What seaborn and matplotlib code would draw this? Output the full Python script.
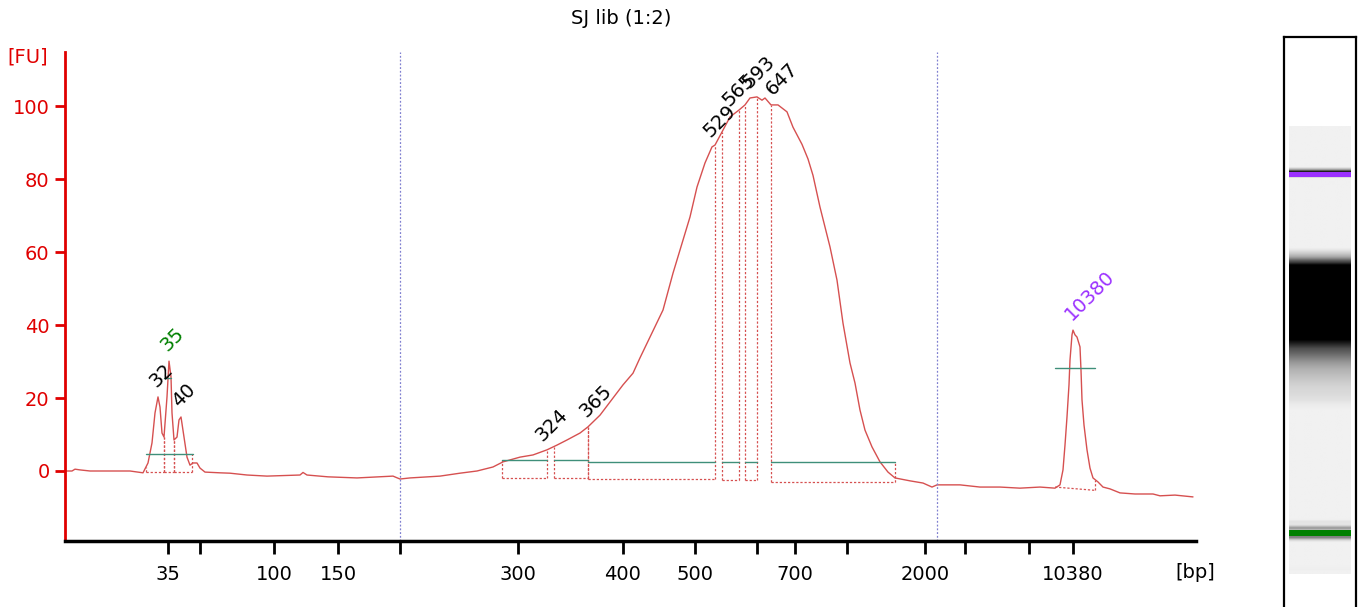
import numpy as np
import matplotlib
matplotlib.use("Agg")
import matplotlib.pyplot as plt
import seaborn as sns

# electropherogram trace, migration time (s) vs fluorescence (FU)
mig_time = [40.2, 40.76, 41.0, 41.4, 42.2, 43.8, 45.4, 46.44, 46.84, 47.16, 47.4, 47.64, 47.8, 47.96,
            48.12, 48.36, 48.52, 48.68, 48.76, 48.92, 49.16, 49.32, 49.48, 49.64, 49.96, 50.2, 50.44,
            50.76, 51.0, 51.4, 52.6, 53.4, 54.76, 56.36, 59.0, 59.24, 59.56, 61.24, 63.56, 66.44, 67.0,
            67.8, 70.2, 71.8, 73.16, 74.44, 75.24, 76.6, 77.64, 78.76, 79.56, 80.36, 81.4, 82.04, 83.0,
            83.8, 84.84, 85.64, 86.2, 87.0, 88.04, 88.84, 89.4, 89.96, 90.2, 90.76, 91.4, 91.96, 92.2,
            92.76, 93.4, 94.12, 94.6, 95.0, 95.56, 95.96, 96.2, 96.68, 97.24, 97.96, 98.44, 99.16,
            99.64, 100.04, 100.6, 101.4, 101.96, 102.44, 103.0, 103.4, 103.8, 104.2, 104.76, 105.4,
            106.04, 106.6, 107.8, 108.84, 109.56, 109.96, 111.8, 113.4, 115.0, 116.6, 118.2, 119.4,
            119.8, 120.04, 120.2, 120.36, 120.52, 120.6, 120.76, 120.84, 121.0, 121.16, 121.4, 121.48,
            121.56, 121.72, 121.96, 122.2, 122.44, 122.84, 123.24, 123.8, 124.6, 125.8, 127.24, 127.8,
            129.0, 130.44]
fu = [0.0, 0.0, 0.5, 0.3, 0.0, 0.0, 0.0, -0.5, 2.2, 7.7, 15.9, 20.3, 17.5, 10.4,
      9.3, 20.3, 30.1, 25.8, 15.9, 8.5, 9.3, 14.0, 14.8, 11.2, 3.8, 1.6, 2.2,
      2.2, 0.8, -0.3, -0.5, -0.6, -1.1, -1.4, -1.1, -0.4, -1.1, -1.6, -1.9, -1.4, -2.2,
      -1.9, -1.4, -0.6, 0.0, 1.1, 2.5, 3.8, 4.4, 5.8, 7.1, 8.5, 10.4, 12.1, 15.3,
      18.9, 23.6, 26.8, 31.0, 36.7, 44.1, 54.2, 60.5, 66.8, 69.6, 77.8, 84.4, 88.8, 89.3,
      92.9, 97.0, 98.9, 100.3, 102.2, 102.5, 101.6, 102.2, 100.3, 100.3, 98.4, 94.2, 89.5,
      85.5, 81.0, 72.3, 61.4, 52.3, 40.5, 29.6, 24.1, 16.7, 11.2, 6.6, 2.5,
      -0.3, -1.9, -2.7, -3.3, -4.4, -3.8, -3.8, -4.4, -4.4, -4.7, -4.4, -4.7,
      -3.8, 0.3, 7.1, 14.8, 23.6, 30.4, 37.3, 38.6, 37.3, 36.7, 34.0, 27.7,
      19.5, 12.6, 5.8, 0.8, -1.9, -3.0, -4.4, -4.9, -6.0, -6.3, -6.3, -6.8,
      -6.6, -7.1]

# ladder sizes on the x axis
ladder_time = [48.44, 51.0, 56.92, 62.04, 67.0, 76.44, 84.84, 90.6, 95.56, 98.6, 102.76, 109.0,
               112.2, 117.32, 120.84]
ladder_label = ['35', '', '100', '150', '', '300', '400', '500', '', '700', '', '2000', '', '', '10380']

# region of interest boundaries
region_time = [67.0, 109.96]

# called peaks
peak_label = ['32', '35', '40', '324', '365', '529', '565', '593', '647', '10380']
peak_time = [47.64, 48.52, 49.48, 78.52, 82.04, 91.96, 93.48, 95.08, 96.92, 120.84]
peak_color = ['black', 'green', 'black', 'black', 'black', 'black', 'black', 'black', 'black', '#9b30ff']

# peak windows: start, end, baseline level, width-line level
win_start = [46.68, 48.12, 48.92, 75.16, 79.32, 82.04, 92.76, 94.6, 96.68, 119.4]
win_end = [48.12, 48.92, 50.36, 78.76, 82.04, 92.2, 94.12, 95.56, 106.6, 122.6]
win_base0 = [-0.4, -0.4, -0.4, -1.9, -1.9, -2.2, -2.5, -2.5, -3.0, -4.4]
win_base1 = [-0.4, -0.4, -0.4, -1.9, -1.9, -2.2, -2.5, -2.5, -3.0, -5.3]
win_level = [4.7, 4.7, 4.7, 3.0, 3.0, 2.6, 2.4, 2.4, 2.4, 28.2]
# ends of a smear / marker region: dotted line runs up to the width line
edge_time = [50.36, 75.16, 106.6]

# width lines
wl_start = [46.68, 48.12, 75.16, 79.32, 82.04, 92.76, 94.6, 96.68, 119.4]
wl_end = [50.44, 48.68, 78.76, 82.04, 92.2, 94.12, 95.56, 106.6, 122.6]
wl_level = [4.7, 25.5, 3.0, 3.0, 2.6, 2.4, 2.4, 2.4, 28.2]

lower_marker_time = 48.52
upper_marker_time = 120.84

TRACE = '#d65050'
RED = '#e00000'
TEAL = '#3f8f7a'

sns.set_style("white")
plt.rcParams['font.family'] = ['DejaVu Sans']
plt.rcParams['text.color'] = 'black'

fig = plt.figure(figsize=(13.61, 6.07), dpi=100)
ax = fig.add_axes([0.04776, 0.10873, 0.8310, 0.8056])

sns.lineplot(x=mig_time, y=fu, ax=ax, color=TRACE, lw=1.0, estimator=None, sort=False)

for t in region_time:
    ax.axvline(t, color='#8080d0', lw=0.9, ls=(0, (1.5, 1.5)))

dot = dict(color=TRACE, lw=0.9, ls=(0, (1.8, 1.5)))
for s, e, b0, b1, lv in zip(win_start, win_end, win_base0, win_base1, win_level):
    ax.plot([s, e], [b0, b1], **dot)
    for t, b in ((s, b0), (e, b1)):
        top = np.interp(t, mig_time, fu)
        if any(abs(t - et) < 0.01 for et in edge_time):
            top = max(top, lv)
        if top > b + 0.3:
            ax.plot([t, t], [b, top], **dot)

for s, e, lv in zip(wl_start, wl_end, wl_level):
    ax.plot([s, e], [lv, lv], color=TEAL, lw=1.0)

for lab, t, c in zip(peak_label, peak_time, peak_color):
    ax.annotate(lab, xy=(t, np.interp(t, mig_time, fu)), xytext=(1.0, 4.5), textcoords='offset points',
                rotation=45, rotation_mode='anchor', ha='left', va='bottom', color=c, fontsize=14)

ax.set_xlim(40.2, 130.68)
ax.set_ylim(-19.18, 114.8)
ax.set_xticks(ladder_time)
ax.set_xticklabels(ladder_label)
ax.set_yticks([0, 20, 40, 60, 80, 100])
ax.tick_params(axis='x', bottom=True, direction='out', length=9, width=2, color='black',
               labelcolor='black', labelsize=14, pad=8)
ax.tick_params(axis='y', left=True, direction='out', length=7, width=2, color=RED,
               labelcolor=RED, labelsize=14, pad=4)
ax.spines['left'].set_color(RED)
ax.spines['left'].set_linewidth(2)
ax.spines['bottom'].set_color('black')
ax.spines['bottom'].set_linewidth(2.5)
ax.spines['top'].set_visible(False)
ax.spines['right'].set_visible(False)
ax.set_xlabel('')
ax.set_ylabel('')

fig.text(621 / 1361, 1 - 18 / 607, 'SJ lib (1:2)', ha='center', va='center', fontsize=14, color='black')
fig.text(28 / 1361, 1 - 57 / 607, '[FU]', ha='center', va='center', fontsize=14, color=RED)
fig.text(1195 / 1361, 1 - 572 / 607, '[bp]', ha='center', va='center', fontsize=14, color='black')

# gel lane built from the same trace
gax = fig.add_axes([1284 / 1361, -0.02, 72 / 1361, 0.959])
t_grid = np.linspace(mig_time[0], mig_time[-1], 900)
dens = np.interp(t_grid, mig_time, fu)
shade = np.clip(0.945 - np.clip(dens, 0, None) / 42.0, 0, 1)
gax.imshow(shade[:, None], extent=(0.07, 0.93, mig_time[0], mig_time[-1]), origin='lower',
           cmap='gray', vmin=0, vmax=1, aspect='auto', interpolation='bilinear')
gax.axhspan(upper_marker_time - 0.5, upper_marker_time + 0.5, xmin=0.07, xmax=0.93, color='#9b30ff', lw=0)
gax.axhspan(lower_marker_time - 0.6, lower_marker_time + 0.6, xmin=0.07, xmax=0.93, color='#008000', lw=0)
gax.set_xlim(0, 1)
gax.set_ylim(31.19, 148.47)
gax.set_xticks([])
gax.set_yticks([])
for sp in gax.spines.values():
    sp.set_color('black')
    sp.set_linewidth(1.6)
    sp.set_visible(True)

fig.savefig('out.png', dpi=100)
